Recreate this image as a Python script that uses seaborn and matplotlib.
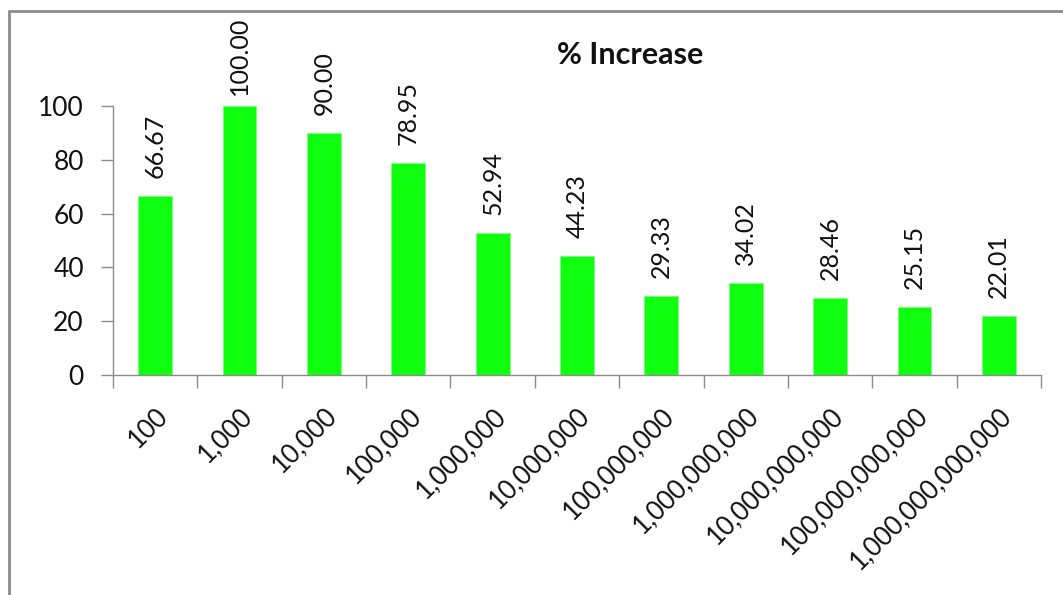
import numpy as np
import pandas as pd
import matplotlib
matplotlib.use('Agg')
import matplotlib.pyplot as plt
from matplotlib.lines import Line2D
import seaborn as sns

# datos del grafico
categorias = ['100', '1,000', '10,000', '100,000', '1,000,000', '10,000,000',
              '100,000,000', '1,000,000,000', '10,000,000,000',
              '100,000,000,000', '1,000,000,000,000']
incremento = [66.67, 100.00, 90.00, 78.95, 52.94, 44.23, 29.33, 34.02, 28.46, 25.15, 22.01]

sns.set_style('white')
plt.rcParams['font.family'] = ['Lato', 'DejaVu Sans']

fig = plt.figure(figsize=(10.63, 5.95), dpi=100)
ax = fig.add_axes([113 / 1063, 1 - 375 / 595, 928 / 1063, 269 / 595])

df = pd.DataFrame({'cat': categorias, 'val': incremento})
sns.barplot(data=df, x='cat', y='val', color='#10ff10', width=0.4,
            saturation=1, edgecolor='#7dff7d', linewidth=0.6, ax=ax)

# etiquetas de valor (la de 100 queda mas pegada para no salirse por arriba)
for i, v in enumerate(incremento):
    desplaz = 13 if v < 95 else 8
    ax.annotate(f'{v:.2f}', (i, v), xytext=(0, desplaz), textcoords='offset points',
                rotation=90, ha='center', va='bottom', fontsize=18,
                color='#111111', annotation_clip=False)

ax.set_xlim(-0.5, len(categorias) - 0.5)
ax.set_ylim(0, 100)
ax.set_yticks(np.arange(0, 101, 20))
ax.set_xlabel('')
ax.set_ylabel('')

gris = '#8c8c8c'
for s in ['top', 'right']:
    ax.spines[s].set_visible(False)
for s in ['left', 'bottom']:
    ax.spines[s].set_color(gris)
    ax.spines[s].set_linewidth(1.0)

ax.set_xticks(np.arange(len(categorias)))
ax.set_xticklabels(categorias, rotation=45, ha='right', rotation_mode='anchor',
                   fontsize=18.5, color='#111111')
ax.set_xticks(np.arange(-0.5, len(categorias)), minor=True)
ax.tick_params(axis='x', which='major', length=0, pad=20)
ax.tick_params(axis='x', which='minor', length=9, width=1, color=gris, direction='out', bottom=True)
ax.tick_params(axis='y', length=9, width=1, color=gris, direction='out', left=True,
               labelsize=19, labelcolor='#111111', pad=12)

fig.text(630 / 1063, 1 - 55 / 595, '% Increase', ha='center', va='center',
         fontsize=22, fontweight='bold', color='#111111')

# marco de la figura (solo arriba e izquierda)
fig.add_artist(Line2D([9 / 1063, 9 / 1063], [0, 1 - 11 / 595], color=gris, lw=2,
                      transform=fig.transFigure))
fig.add_artist(Line2D([9 / 1063, 1], [1 - 11 / 595, 1 - 11 / 595], color=gris, lw=2,
                      transform=fig.transFigure))

fig.savefig('out.png', dpi=100)
